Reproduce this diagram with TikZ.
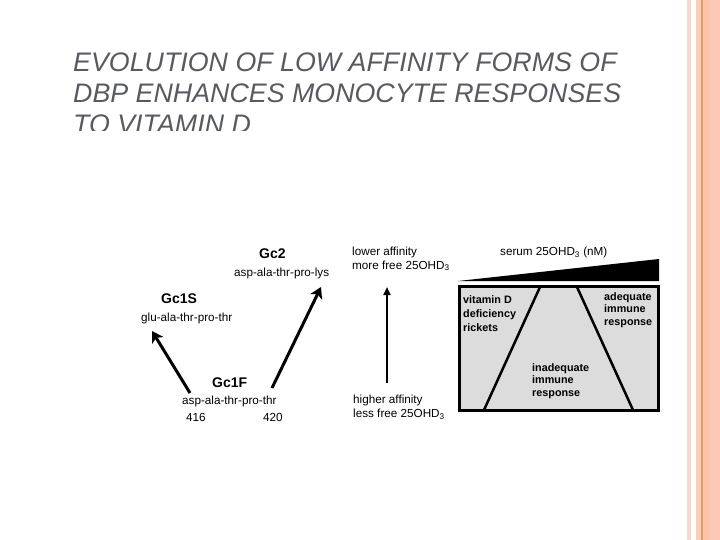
\documentclass[tikz,border=0pt]{standalone}
\usepackage{fontspec}
\setmainfont{Liberation Sans}
\usetikzlibrary{arrows.meta}
\definecolor{titlegray}{RGB}{88,90,96}
\definecolor{boxgray}{RGB}{220,220,220}
\definecolor{stripeA}{RGB}{249,216,203}
\definecolor{stripeB}{RGB}{251,205,184}
\definecolor{stripeL}{RGB}{224,154,112}
\definecolor{stripeC}{RGB}{253,196,168}
\definecolor{stripeD}{RGB}{252,200,184}
\begin{document}
\begin{tikzpicture}[x=1pt,y=-1pt,
  titletxt/.style={inner sep=0pt, anchor=base west, text=titlegray,
    font=\fontsize{26.8}{31}\selectfont\itshape},
  txt/.style={inner sep=0pt, anchor=base west, font=\fontsize{11.7}{13}\selectfont},
  head/.style={inner sep=0pt, anchor=base west, font=\fontsize{14}{16}\selectfont\bfseries},
  boxtxt/.style={inner sep=0pt, anchor=base west, font=\fontsize{10.8}{13}\selectfont\bfseries},
  bigarrow/.style={line width=3pt, -{Stealth[length=11pt,width=13pt,inset=3pt]}},
  vertarrow/.style={line width=2pt, -{Triangle[length=8pt,width=7pt]}},
  diag/.style={line width=2.5pt}]
\useasboundingbox (0,0) rectangle (720,540);
% right border stripes
\fill[stripeA] (687,0) rectangle (691,540);
\fill[stripeB] (696,0) rectangle (701,540);
\fill[stripeL] (701,0) rectangle (702.5,540);
\fill[stripeC] (702.5,0) rectangle (709,540);
\fill[stripeD] (709,0) rectangle (720,540);
% title (third line clipped)
\begin{scope}
\clip (0,0) rectangle (720,131);
\node[titletxt] (title1) at (73,72) {EVOLUTION OF LOW AFFINITY FORMS OF};
\node[titletxt] (title2) at (73,102.5) {DBP ENHANCES MONOCYTE RESPONSES};
\node[titletxt] (title3) at (73,134) {TO VITAMIN D};
\end{scope}
% left part
\node[head] (gc2) at (259,258.5) {Gc2};
\node[txt] (gc2seq) at (234,276.5) {asp-ala-thr-pro-lys};
\node[head] (gc1s) at (161,303) {Gc1S};
\node[txt] (gc1sseq) at (141,321) {glu-ala-thr-pro-thr};
\node[head] (gc1f) at (212,387) {Gc1F};
\node[txt] (gc1fseq) at (182,404) {asp-ala-thr-pro-thr};
\node[txt] (n416) at (186,421) {416};
\node[txt] (n420) at (263,421) {420};
\coordinate (fa) at (190,393);
\coordinate (sa) at (152,331);
\coordinate (fb) at (272,388);
\coordinate (tb) at (321,287);
\draw[bigarrow] (fa) -- (sa);
\draw[bigarrow] (fb) -- (tb);
% middle
\node[txt] (low1) at (352,255.5) {lower affinity};
\node[txt] (low2) at (352,269) {more free 25OHD\textsubscript{3}};
\node[txt] (high1) at (353,403.5) {higher affinity};
\node[txt] (high2) at (353,417.5) {less free 25OHD\textsubscript{3}};
\coordinate (vbot) at (387,383);
\coordinate (vtop) at (387,287);
\draw[vertarrow] (vbot) -- (vtop);
% right part
\node[txt] (serum) at (500,255.5) {serum 25OHD\textsubscript{3} (nM)};
\coordinate (w1) at (458,281);
\coordinate (w2) at (659,259);
\coordinate (w3) at (659,281);
\fill (w1) -- (w2) -- (w3) -- cycle;
\node[draw, line width=3pt, fill=boxgray, minimum width=199pt, minimum height=124pt, inner sep=0pt] (box) at (559,348.5) {};
\coordinate (d1t) at (540,287);
\coordinate (d1b) at (484,410);
\coordinate (d2t) at (577,287);
\coordinate (d2b) at (633,410);
\draw[diag] (d1t) -- (d1b);
\draw[diag] (d2t) -- (d2b);
\node[boxtxt] (vd1) at (463,303.5) {vitamin D};
\node[boxtxt] (vd2) at (463,317.5) {deficiency};
\node[boxtxt] (vd3) at (463,331.5) {rickets};
\node[boxtxt] (ad1) at (604,300) {adequate};
\node[boxtxt] (ad2) at (604,312.5) {immune};
\node[boxtxt] (ad3) at (604,325) {response};
\node[boxtxt] (in1) at (532,371) {inadequate};
\node[boxtxt] (in2) at (532,383.5) {immune};
\node[boxtxt] (in3) at (532,396) {response};
\end{tikzpicture}
\end{document}
